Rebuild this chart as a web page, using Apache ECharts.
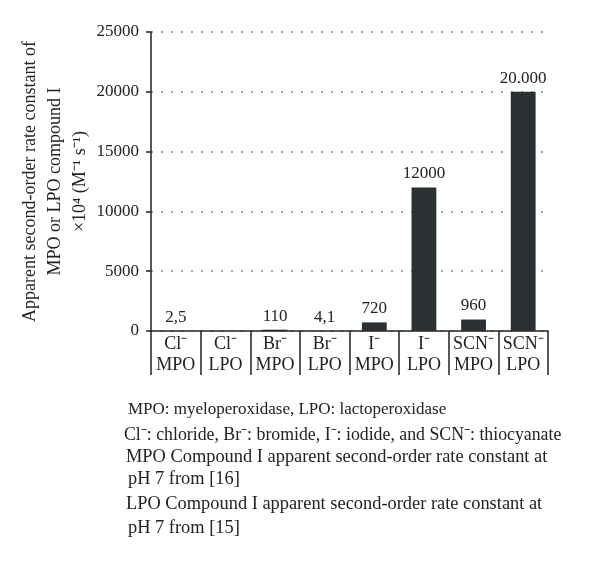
<!DOCTYPE html>
<html>
<head>
<meta charset="utf-8">
<script src="https://cdn.jsdelivr.net/npm/echarts@6/dist/echarts.min.js"></script>
<style>
  html, body { margin: 0; padding: 0; background: #fff; }
  #chart { width: 600px; height: 564px; }
</style>
</head>
<body>
<div id="chart"></div>
<script>
// categories: ion / enzyme
const categories = [
    "Cl⁻\nMPO", "Cl⁻\nLPO", "Br⁻\nMPO", "Br⁻\nLPO",
    "I⁻\nMPO", "I⁻\nLPO", "SCN⁻\nMPO", "SCN⁻\nLPO",
];
// rate constants (x10^4 M^-1 s^-1)
const rateValues = [2.5, null, 110, 4.1, 720, 12000, 960, 20000];
// value labels as printed above the bars
const valueLabels = ["2,5", "", "110", "4,1", "720", "12000", "960", "20.000"];
const yTicks = { min: 0, max: 25000, interval: 5000 };

const footnotes = [
    "MPO: myeloperoxidase, LPO: lactoperoxidase",
    "Cl⁻: chloride, Br⁻: bromide, I⁻: iodide, and SCN⁻: thiocyanate",
    "MPO Compound I apparent second-order rate constant at",
    "pH 7 from [16]",
    "LPO Compound I apparent second-order rate constant at",
    "pH 7 from [15]",
];

const serif = "Liberation Serif";
const chart = echarts.init(document.getElementById("chart"));

const footTops = [401, 426, 448, 470, 495, 519]; // text block tops
const footLefts = [128, 124, 126, 128, 126, 128];
const footSizes = [17, 17.8, 18.4, 18.4, 18.4, 18.4];

const option = {
    backgroundColor: "#ffffff",
    animation: false,
    grid: { left: 151, top: 32, right: 52, bottom: 233, outerBoundsMode: "none", containLabel: false },
    xAxis: {
        type: "category",
        data: categories,
        boundaryGap: true,
        axisLine: { lineStyle: { color: "#222", width: 1.5 } },
        axisTick: {
            show: true,
            interval: 0,
            length: 44,
            lineStyle: { color: "#222", width: 1.5 },
        },
        axisLabel: {
            interval: 0,
            margin: 3,
            color: "#222",
            fontFamily: serif,
            fontSize: 18,
            lineHeight: 21,
        },
    },
    yAxis: {
        type: "value",
        min: yTicks.min,
        max: yTicks.max,
        interval: yTicks.interval,
        name: "Apparent second-order rate constant of\nMPO or LPO compound I\n×10⁴ (M⁻¹ s⁻¹)",
        nameLocation: "middle",
        nameGap: 58,
        nameMoveOverlap: false,
        nameRotate: 90,
        nameTextStyle: {
            color: "#222",
            fontFamily: serif,
            fontSize: 18,
            lineHeight: 25,
        },
        axisLine: { show: true, lineStyle: { color: "#222", width: 1.5 } },
        axisTick: { show: true, length: 5, lineStyle: { color: "#222", width: 1.5 } },
        axisLabel: {
            margin: 12,
            color: "#222",
            fontFamily: serif,
            fontSize: 17,
            formatter: (v) => String(v),
        },
        splitLine: {
            show: true,
            lineStyle: { color: "#888", width: 1.5, type: [2, 8] },
        },
    },
    series: [
        {
            type: "bar",
            data: rateValues,
            barWidth: "50%",
            itemStyle: { color: "#2b3032" },
            label: {
                show: true,
                position: "top",
                distance: 5,
                color: "#222",
                fontFamily: serif,
                fontSize: 17,
                formatter: (p) => valueLabels[p.dataIndex],
            },
        },
    ],
    graphic: footnotes.map((t, i) => ({
        type: "text",
        left: footLefts[i],
        top: footTops[i],
        style: {
            text: t,
            fill: "#222",
            font: footSizes[i] + "px " + serif,
        },
    })),
};

chart.setOption(option);
</script>
</body>
</html>
